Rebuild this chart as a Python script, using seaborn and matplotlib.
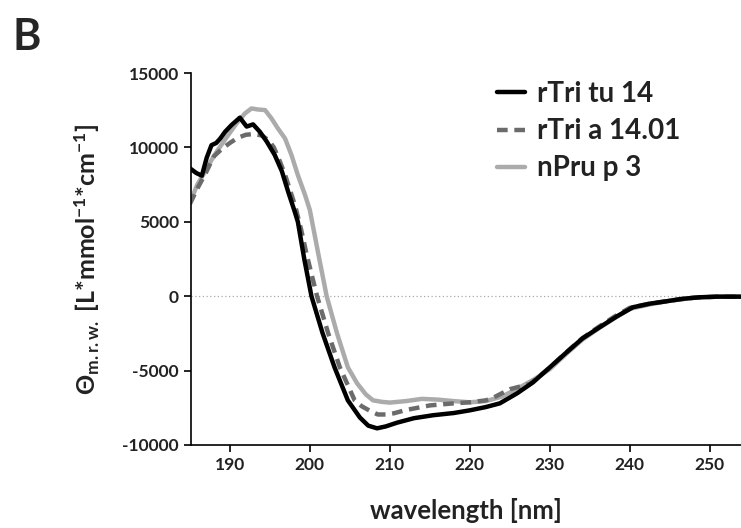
import numpy as np
import pandas as pd
import matplotlib
matplotlib.use("Agg")
import matplotlib.pyplot as plt
import seaborn as sns

# ---- data ----
series_names = ["rTri tu 14", "rTri a 14.01", "nPru p 3"]

wl_black = [185.0, 185.8, 186.5, 187.1, 187.7, 188.3, 188.8, 189.4, 190.2, 191.25,
            192.1, 192.9, 193.75, 194.6, 195.6, 196.5, 197.3, 198.1, 198.5, 199.3,
            200.2, 201.6, 203.1, 204.75, 206.25, 207.3, 208.4, 209.5, 210.9, 213.0,
            215.4, 218.0, 220.0, 222.0, 223.75, 225.9, 227.9, 230.0, 232.1, 234.1,
            236.25, 238.4, 240.4, 242.5, 244.6, 246.5, 248.75, 251.0, 254.0]
theta_black = [8600, 8280, 8100, 9300, 10150, 10300, 10600, 11050, 11500, 12000,
               11400, 11550, 11050, 10400, 9500, 8400, 7000, 5700, 5000, 2500,
               0, -2500, -4800, -7000, -8150, -8700, -8880, -8750, -8500, -8200,
               -8000, -7850, -7670, -7450, -7200, -6530, -5790, -4780, -3770, -2830,
               -2080, -1350, -740, -500, -340, -180, -70, -30, -30]

wl_dash = [185.0, 186.0, 187.0, 188.0, 189.0, 190.0, 191.0, 192.0, 193.0, 194.0,
           194.8, 195.5, 196.3, 197.0, 197.6, 198.2, 198.9, 199.6, 200.9, 202.3,
           203.75, 205.6, 206.5, 207.5, 208.5, 209.5, 210.5, 212.0, 215.0, 218.0,
           220.0, 222.0, 223.0, 225.0, 227.5, 230.0, 232.0, 234.0, 236.0, 238.0,
           240.0, 242.5, 245.0, 248.0, 251.0, 254.0]
theta_dash = [6200, 7300, 8300, 9400, 9900, 10300, 10650, 10850, 10900, 10800,
              10500, 10000, 9000, 8000, 7000, 6000, 4500, 2800, 0, -2500,
              -4780, -7000, -7400, -7700, -7950, -7950, -7870, -7650, -7340, -7200,
              -7130, -7000, -6800, -6250, -5900, -4800, -3800, -2850, -2100, -1400,
              -780, -500, -300, -100, -30, -30]

wl_gray = [185.0, 185.9, 186.9, 187.7, 188.5, 189.8, 191.0, 191.9, 192.7, 193.5,
           194.4, 195.2, 196.0, 196.9, 197.7, 198.5, 199.4, 200.0, 201.0, 202.1,
           203.4, 204.75, 205.9, 207.0, 207.9, 209.0, 210.0, 212.0, 214.0, 216.0,
           218.0, 220.0, 222.0, 224.0, 226.0, 228.0, 230.0, 232.0, 234.0, 236.0,
           238.0, 240.0, 242.5, 245.0, 248.0, 251.0, 254.0]
theta_gray = [6260, 7470, 8370, 9150, 9830, 10840, 11730, 12290, 12620, 12550,
              12510, 11950, 11280, 10600, 9490, 8140, 6800, 5790, 3000, 0,
              -2500, -4780, -5850, -6600, -7000, -7100, -7150, -7050, -6900, -6950,
              -7050, -7130, -7050, -6750, -6200, -5600, -4900, -3900, -2950, -2200,
              -1500, -850, -550, -300, -100, -30, -30]

x_ticks = [190, 200, 210, 220, 230, 240, 250]
y_ticks = [-10000, -5000, 0, 5000, 10000, 15000]

# ---- long-form table ----
df = pd.concat([
    pd.DataFrame({"wavelength": wl_black, "theta": theta_black, "sample": series_names[0]}),
    pd.DataFrame({"wavelength": wl_dash, "theta": theta_dash, "sample": series_names[1]}),
    pd.DataFrame({"wavelength": wl_gray, "theta": theta_gray, "sample": series_names[2]}),
], ignore_index=True)

sns.set_theme(style="ticks")
plt.rcParams["font.family"] = ["Lato", "DejaVu Sans"]
plt.rcParams["font.weight"] = "bold"
plt.rcParams["axes.unicode_minus"] = False
plt.rcParams["mathtext.fontset"] = "custom"
plt.rcParams["mathtext.rm"] = "Lato:bold"
plt.rcParams["mathtext.it"] = "Lato:bold"
plt.rcParams["mathtext.bf"] = "Lato:bold"

fig = plt.figure(figsize=(7.41, 5.28), dpi=100)
ax = fig.add_axes([0.2584, 0.1572, 0.7416, 0.7045])

palette = {series_names[0]: "#000000", series_names[1]: "#6b6b6b", series_names[2]: "#ababab"}
dashes = {series_names[0]: "", series_names[1]: (2.4, 1.5), series_names[2]: ""}

ax.axhline(0, color="#aaaaaa", lw=0.9, ls=(0, (1, 2)), zorder=0)

sns.lineplot(data=df, x="wavelength", y="theta", hue="sample", style="sample",
             palette=palette, dashes=dashes, sort=False, estimator=None,
             linewidth=3.2, ax=ax, legend=True)

# stacking: gray at the back, dashed in the middle, black on top
z_order = {"#000000": 3.0, "#6b6b6b": 2.5, "#ababab": 2.0}
for ln in ax.get_lines():
    c = matplotlib.colors.to_hex(ln.get_color())
    if c in z_order:
        ln.set_zorder(z_order[c])

ax.set_xlim(185.2, 253.9)
ax.set_ylim(-10000, 15000)
ax.set_xticks(x_ticks)
ax.set_yticks(y_ticks)
ax.tick_params(axis="both", labelsize=12.5, length=5, width=1.2, color="black", pad=4)
for lab in ax.get_xticklabels() + ax.get_yticklabels():
    lab.set_fontweight("bold")
    lab.set_color("#222222")
sns.despine(ax=ax, top=True, right=True)
for s in ["left", "bottom"]:
    ax.spines[s].set_linewidth(1.2)
    ax.spines[s].set_color("black")

ax.set_xlabel("wavelength [nm]", fontsize=18.5, fontweight="bold", labelpad=18, color="#222222")
ax.set_ylabel(r"$\Theta_{\mathrm{m.r.w.}}$ [L*mmol$^{\mathrm{-1}}$*cm$^{\mathrm{-1}}$]",
              fontsize=18, fontweight="bold", labelpad=15, color="#222222")

leg = ax.legend(loc="upper left", bbox_to_anchor=(0.536, 1.008), frameon=False,
                fontsize=20, handlelength=1.0, handletextpad=0.45, labelspacing=0.4,
                borderaxespad=0.0, title=None)
for t in leg.get_texts():
    t.set_fontweight("bold")
    t.set_color("#222222")
for h in leg.get_lines():
    h.set_linewidth(3.2)

fig.text(0.017, 0.968, "B", fontsize=31, fontweight="bold", va="top", ha="left")

fig.savefig("out.png", dpi=100)
